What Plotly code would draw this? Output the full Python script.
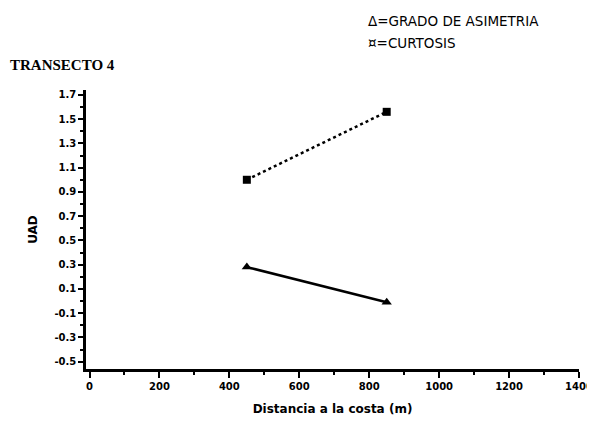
import plotly.graph_objects as go

distance = [450, 850]
asimetria = [0.28, -0.01]
curtosis = [1.0, 1.56]
x_ticks = [0, 200, 400, 600, 800, 1000, 1200, 1400]
y_ticks = [-0.5, -0.3, -0.1, 0.1, 0.3, 0.5, 0.7, 0.9, 1.1, 1.3, 1.5, 1.7]

# the page body has an 8px default margin; compensate so the figure lands on the 595x427 window
OFF = 8
W, H = 595 - OFF, 427 - OFF
L, R, T, B = 86 - OFF, 16, 90 - OFF, 58

fig = go.Figure()
fig.add_trace(go.Scatter(
    x=distance, y=curtosis, mode="lines+markers",
    line=dict(color="black", width=2.5, dash="dot"),
    marker=dict(symbol="square", size=8, color="black"),
    name="CURTOSIS", showlegend=False))
fig.add_trace(go.Scatter(
    x=distance, y=asimetria, mode="lines+markers",
    line=dict(color="black", width=2.5),
    marker=dict(symbol="triangle-up", size=9, color="black"),
    name="GRADO DE ASIMETRIA", showlegend=False))

fig.update_xaxes(
    range=[-10, 1400], tickvals=x_ticks, ticktext=[str(v) for v in x_ticks],
    automargin=False, ticklabeloverflow="allow",
    showline=True, linecolor="black", linewidth=2.5, showgrid=False, zeroline=False,
    ticks="outside", ticklen=6, tickwidth=2, tickcolor="black",
    minor=dict(tickvals=[100, 300, 500, 700, 900, 1100, 1300], ticks="outside", ticklen=3, tickwidth=1.5, tickcolor="black"),
    tickfont=dict(family="DejaVu Sans", size=10, color="black", weight="bold"),
    title=dict(text="<b>Distancia a la costa (m)</b>", font=dict(family="DejaVu Sans", size=12, color="black"), standoff=14),
)
fig.update_yaxes(
    range=[-0.56, 1.74], tickvals=y_ticks, ticktext=[f"{v:.1f}" for v in y_ticks],
    automargin=False, ticklabeloverflow="allow",
    showline=True, linecolor="black", linewidth=2.5, showgrid=False, zeroline=False,
    ticks="outside", ticklen=5, tickwidth=2, tickcolor="black",
    minor=dict(tickvals=[-0.4, -0.2, 0.0, 0.2, 0.4, 0.6, 0.8, 1.0, 1.2, 1.4, 1.6], ticks="outside", ticklen=3, tickwidth=1.5, tickcolor="black"),
    tickfont=dict(family="DejaVu Sans", size=10, color="black", weight="bold"),
    title=dict(text="<b>UAD</b>", font=dict(family="DejaVu Sans", size=12, color="black"), standoff=15),
)

ph = H - T - B
pw = W - L - R

def px(x):
    return (x - OFF - L) / pw

def py(y):
    return (H - B - (y - OFF)) / ph

fig.add_annotation(text="<b>TRANSECTO 4</b>", xref="paper", yref="paper", x=px(8), y=py(65),
                   xanchor="left", yanchor="middle", showarrow=False,
                   font=dict(family="Liberation Serif", size=15, color="black"))
fig.add_annotation(text="Δ=GRADO DE ASIMETRIA", xref="paper", yref="paper", x=px(366), y=py(21),
                   xanchor="left", yanchor="middle", showarrow=False,
                   font=dict(family="DejaVu Sans", size=13.5, color="black"))
fig.add_annotation(text="¤=CURTOSIS", xref="paper", yref="paper", x=px(366), y=py(43),
                   xanchor="left", yanchor="middle", showarrow=False,
                   font=dict(family="DejaVu Sans", size=13.5, color="black"))

fig.update_layout(
    width=W, height=H,
    margin=dict(l=L, r=R, t=T, b=B, autoexpand=False),
    paper_bgcolor="white", plot_bgcolor="white",
)

fig.write_html("out.html")
